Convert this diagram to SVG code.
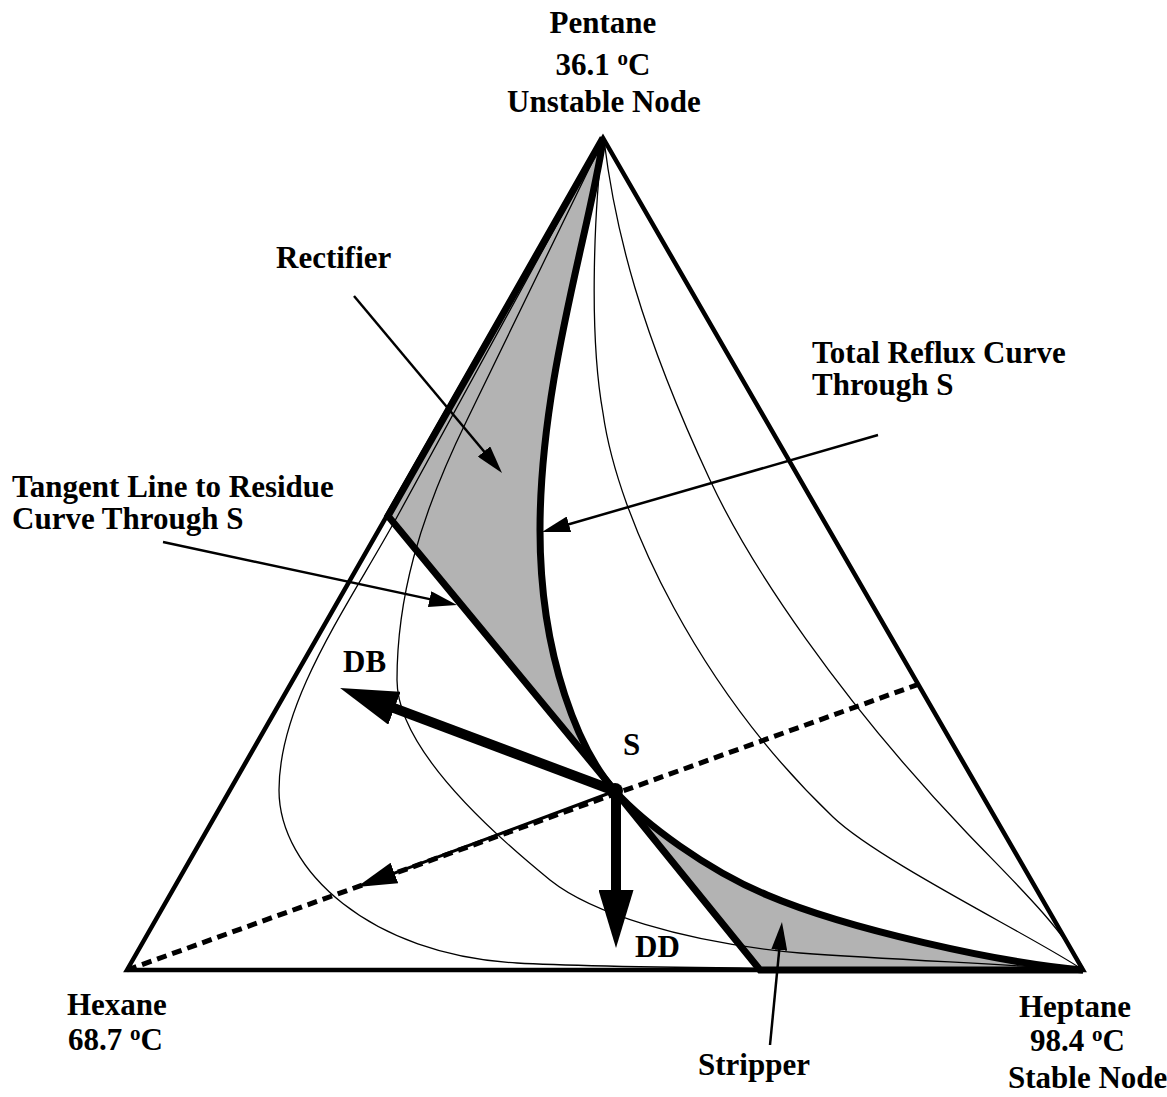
<svg xmlns="http://www.w3.org/2000/svg" width="1167" height="1097" viewBox="0 0 1167 1097">
  <style>
    text { font-family: 'Liberation Serif', 'Times New Roman', serif; font-weight: bold; font-size: 31px; fill: #000; }
    .sup { font-size: 21px; }
    .edge { fill: none; stroke: #000; stroke-width: 4.5; stroke-linejoin: miter; }
    .thick { fill: none; stroke: #000; stroke-width: 7; stroke-linejoin: miter; }
    .thin { fill: none; stroke: #000; stroke-width: 1.3; }
    .shade { fill: #b3b3b3; stroke: none; }
    .dash { fill: none; stroke: #000; stroke-width: 5; stroke-dasharray: 10 6; }
    .leader { fill: none; stroke: #000; stroke-width: 2.5; marker-end: url(#headS); }
    .mid { fill: none; stroke: #000; stroke-width: 3; marker-end: url(#headM); }
    .big { fill: none; stroke: #000; stroke-width: 10; marker-end: url(#headL); }
  </style>
  <defs>
    <marker id="headS" markerUnits="userSpaceOnUse" viewBox="0 0 28 16" markerWidth="28" markerHeight="16" refX="18" refY="8" orient="auto">
      <path d="M0,0 L28,8 L0,16 Z" fill="#000"/>
    </marker>
    <marker id="headM" markerUnits="userSpaceOnUse" viewBox="0 0 40 22" markerWidth="40" markerHeight="22" refX="28" refY="11" orient="auto">
      <path d="M0,0 L40,11 L0,22 Z" fill="#000"/>
    </marker>
    <marker id="headL" markerUnits="userSpaceOnUse" viewBox="0 0 58 35" markerWidth="58" markerHeight="35" refX="38" refY="17.5" orient="auto">
      <path d="M0,0 L58,17.5 L0,35 Z" fill="#000"/>
    </marker>
  </defs>

  <rect width="1167" height="1097" fill="#fff"/>

  <!-- shaded column sections -->
  <g id="rectifier-region">
    <path class="shade" d="M603,138 L388,516 L615,791 C581,753 540,660 540,530 C540,380 590,230 603,140 Z"/>
  </g>
  <g id="stripper-region">
    <path class="shade" d="M615,791 C645,824 707,870 767,895 C847,929 1000,963 1083,970 L760,970 Z"/>
  </g>

  <!-- residue curves -->
  <g id="residue-curves">
    <path class="thin" d="M603,140 L397,517 C350,603 279,700 279,790 C279,870 370,955 517,963 C600,968 900,970 1083,970"/>
    <path class="thin" d="M603,140 L467,420 C418,520 397,600 397,680 C397,740 470,815 550,880 C590,912 680,942 800,953 C900,960 1000,964 1083,970"/>
    <path class="thin" d="M603,140 C595,200 588,330 603,413 C618,520 700,690 833,817 C880,862 1040,940 1083,970"/>
    <path class="thin" d="M604,140 C615,230 640,330 710,480 C750,566 840,700 967,833 C1010,878 1060,925 1083,968"/>
  </g>

  <!-- composition triangle -->
  <g id="triangle">
    <polygon class="edge" points="127,970 603,138 1083,970"/>
  </g>

  <!-- section boundaries -->
  <g id="boundaries">
    <path class="thick" d="M603,138 L388,516 L615,791 L760,970 L1083,970"/>
    <path class="thick" d="M603,140 C590,230 540,380 540,530 C540,660 581,753 615,791 C645,824 707,870 767,895 C847,929 1000,963 1083,970"/>
  </g>

  <!-- mass balance line through S -->
  <g id="balance-line">
    <line class="dash" x1="127" y1="970" x2="922" y2="683"/>
  </g>

  <g id="connectors">
    <line class="mid" x1="615" y1="791" x2="368.2" y2="882.8"/>
    <line class="big" x1="615" y1="791" x2="358.8" y2="694.9"/>
    <line class="big" x1="616" y1="791" x2="616" y2="928"/>
    <line class="leader" x1="354" y1="296" x2="495.6" y2="465.3"/>
    <line class="leader" x1="878" y1="435" x2="551.6" y2="529.2"/>
    <line class="leader" x1="163" y1="542" x2="447.2" y2="602.9"/>
    <line class="leader" x1="770" y1="1045" x2="781" y2="932"/>
  </g>

  <g id="point-S">
    <circle cx="615" cy="791" r="8" fill="#000"/>
    <text x="623" y="755">S</text>
  </g>

  <g id="pentane">
    <text x="603" y="33" text-anchor="middle">Pentane</text>
    <text x="603" y="75" text-anchor="middle">36.1 <tspan class="sup" dy="-10">o</tspan><tspan dy="10">C</tspan></text>
    <text x="604" y="112" text-anchor="middle">Unstable Node</text>
  </g>
  <g id="hexane">
    <text x="67" y="1015">Hexane</text>
    <text x="68" y="1050">68.7 <tspan class="sup" dy="-10">o</tspan><tspan dy="10">C</tspan></text>
  </g>
  <g id="heptane">
    <text x="1019" y="1017">Heptane</text>
    <text x="1030" y="1051">98.4 <tspan class="sup" dy="-10">o</tspan><tspan dy="10">C</tspan></text>
    <text x="1008" y="1088">Stable Node</text>
  </g>

  <g id="rectifier-label"><text x="276" y="268">Rectifier</text></g>
  <g id="total-reflux-label">
    <text x="812" y="363">Total Reflux Curve</text>
    <text x="812" y="395">Through S</text>
  </g>
  <g id="tangent-label">
    <text x="12" y="497">Tangent Line to Residue</text>
    <text x="12" y="529">Curve Through S</text>
  </g>
  <g id="db-label"><text x="343" y="672">DB</text></g>
  <g id="dd-label"><text x="635" y="957">DD</text></g>
  <g id="stripper-label"><text x="698" y="1075">Stripper</text></g>
</svg>
